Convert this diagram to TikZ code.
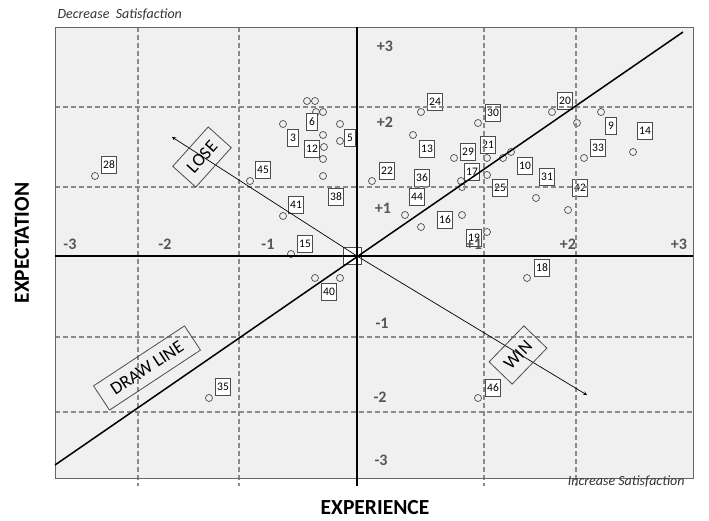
\documentclass[tikz,border=0pt]{standalone}
\usepackage{fontspec}
\setmainfont{Carlito}
\definecolor{plotbg}{HTML}{F0F0F0}
\definecolor{gridgray}{HTML}{8A8A8A}
\definecolor{labgray}{HTML}{555555}
\tikzset{
  gridline/.style={gridgray, line width=1.3pt, dash pattern=on 5pt off 3pt},
  axisline/.style={black, line width=2pt},
  ticklab/.style={text=labgray, font=\bfseries\fontsize{16}{17}\selectfont, inner sep=0pt},
  tagbox/.style={draw=black!70, line width=0.8pt, rotate=#1, font=\fontsize{18}{20}\selectfont, inner sep=2pt}
}
\begin{document}
\begin{tikzpicture}[x=1pt, y=-1pt, >=stealth]
        \useasboundingbox (0,0) rectangle (709,521);
        \fill[plotbg] (55,27) rectangle (693,478);

        \begin{scope}[every node/.style={circle, draw=black!70, line width=0.7pt, minimum size=7pt, inner sep=0pt}]
            \node (p28) at (95,176) {};
            \node (p45) at (250,181) {};
            \node (p41) at (283,216) {};
            \node (p15) at (291,254) {};
            \node (p3) at (283,124) {};
            \node (p6a) at (307,101) {};
            \node (p6b) at (315,101) {};
            \node (p6c) at (316,112) {};
            \node (p6d) at (323,112) {};
            \node (p5a) at (340,124) {};
            \node (p5b) at (340,141) {};
            \node (p12a) at (323,135) {};
            \node (p12b) at (324,147) {};
            \node (p12c) at (323,159) {};
            \node (p38) at (323,176) {};
            \node (p22) at (372,181) {};
            \node (p24) at (421,112) {};
            \node (p30) at (478,123) {};
            \node (p13) at (413,135) {};
            \node (p29) at (454,158) {};
            \node (p21a) at (487,158) {};
            \node (p21b) at (503,158) {};
            \node (p10) at (511,152) {};
            \node (p17a) at (487,175) {};
            \node (p17b) at (461,181) {};
            \node (p17c) at (462,187) {};
            \node (p44) at (405,215) {};
            \node (p36) at (421,227) {};
            \node (p16) at (462,215) {};
            \node (p19) at (487,232) {};
            \node (p31) at (536,198) {};
            \node (p42) at (568,210) {};
            \node (p20) at (552,112) {};
            \node (p20b) at (577,123) {};
            \node (p9) at (601,112) {};
            \node (p14) at (633,152) {};
            \node (p33) at (584,158) {};
            \node (p40a) at (315,278) {};
            \node (p40b) at (340,278) {};
            \node (p35) at (209,398) {};
            \node (p18) at (527,278) {};
            \node (p46) at (478,398) {};
        \end{scope}

        \begin{scope}[every node/.style={rectangle, draw=black!70, fill=white, line width=0.8pt, minimum height=17pt, minimum width=11pt, inner sep=2pt, font=\fontsize{11.5}{13}\selectfont}]
            \node (n28) at (109,165) {28};
            \node (n45) at (263,170) {45};
            \node (n41) at (296,205) {41};
            \node (n15) at (305,244) {15};
            \node (n38) at (336,197) {38};
            \node (n6) at (312,122) {6};
            \node (n3) at (293,138) {3};
            \node (n12) at (312,149) {12};
            \node (n5) at (350,138) {5};
            \node (n22) at (387,171) {22};
            \node (n24) at (435,102) {24};
            \node (n30) at (493,113) {30};
            \node (n13) at (427,149) {13};
            \node (n29) at (468,152) {29};
            \node (n21) at (488,145) {21};
            \node (n17) at (472,172) {17};
            \node (n36) at (422,178) {36};
            \node (n44) at (417,197) {44};
            \node (n25) at (500,188) {25};
            \node (n16) at (445,220) {16};
            \node (n19) at (474,238) {19};
            \node (n10) at (525,166) {10};
            \node (n31) at (547,177) {31};
            \node (n42) at (580,188) {42};
            \node (n20) at (565,101) {20};
            \node (n9) at (611,126) {9};
            \node (n14) at (645,131) {14};
            \node (n33) at (598,148) {33};
            \node (n40) at (329,292) {40};
            \node (n35) at (223,387) {35};
            \node (n18) at (542,268) {18};
            \node (n46) at (493,388) {46};
            \node[minimum width=18pt] (n0) at (352,256) {};
        \end{scope}

        % grid
        \foreach \gx in {138,239,484,576}
            \draw[gridline] (\gx,27) -- (\gx,486);
        \foreach \gy in {107,187,337,412}
            \draw[gridline] (55,\gy) -- (693,\gy);
        \draw[black!60, line width=0.8pt] (55,27) rectangle (693,478);

        % axes
        \coordinate (o) at (357,256);
        \draw[axisline] (55,256) -- (693,256);
        \draw[axisline] (357,27) -- (357,486);

        \coordinate (dlstart) at (55,465);
        \coordinate (dlend) at (683,32);
        \draw[black, line width=1.5pt] (dlstart) -- (dlend);

        \coordinate (losetip) at (172,137);
        \coordinate (wintip) at (587,395);
        \draw[->, line width=0.7pt] (o) -- (losetip);
        \draw[->, line width=0.7pt] (o) -- (wintip);

        \node[tagbox=48, minimum width=53pt, minimum height=31pt] (lose) at (202,157) {LOSE};
        \node[tagbox=46, minimum width=50pt, minimum height=32pt] (win) at (518,355) {WIN};
        \node[tagbox=33.4, minimum width=109pt, minimum height=29pt] (drawline) at (147,368) {DRAW LINE};

        % tick labels
        \node[ticklab] (xm3) at (70,244) {-3};
        \node[ticklab] (xm2) at (165,244) {-2};
        \node[ticklab] (xm1) at (268,244) {-1};
        \node[ticklab] (xp1) at (474,244) {+1};
        \node[ticklab] (xp2) at (568,244) {+2};
        \node[ticklab] (xp3) at (679,244) {+3};
        \node[ticklab] (yp3) at (385,46) {+3};
        \node[ticklab] (yp2) at (385,122) {+2};
        \node[ticklab] (yp1) at (383,208) {+1};
        \node[ticklab] (ym1) at (382,323) {-1};
        \node[ticklab] (ym2) at (380,397) {-2};
        \node[ticklab] (ym3) at (381,460) {-3};

        \node[anchor=west, font=\itshape\fontsize{14}{16}\selectfont, text=black!80] (decr) at (54,14) {Decrease\ \ Satisfaction};
        \node[anchor=east, font=\itshape\fontsize{14}{16}\selectfont, text=black!80] (incr) at (688,481) {Increase Satisfaction};
        \node[font=\bfseries\fontsize{21.5}{23}\selectfont] (xlab) at (375,508) {EXPERIENCE};
        \node[rotate=90, font=\bfseries\fontsize{21.5}{23}\selectfont] (ylab) at (22,243) {EXPECTATION};
    \end{tikzpicture}
\end{document}
